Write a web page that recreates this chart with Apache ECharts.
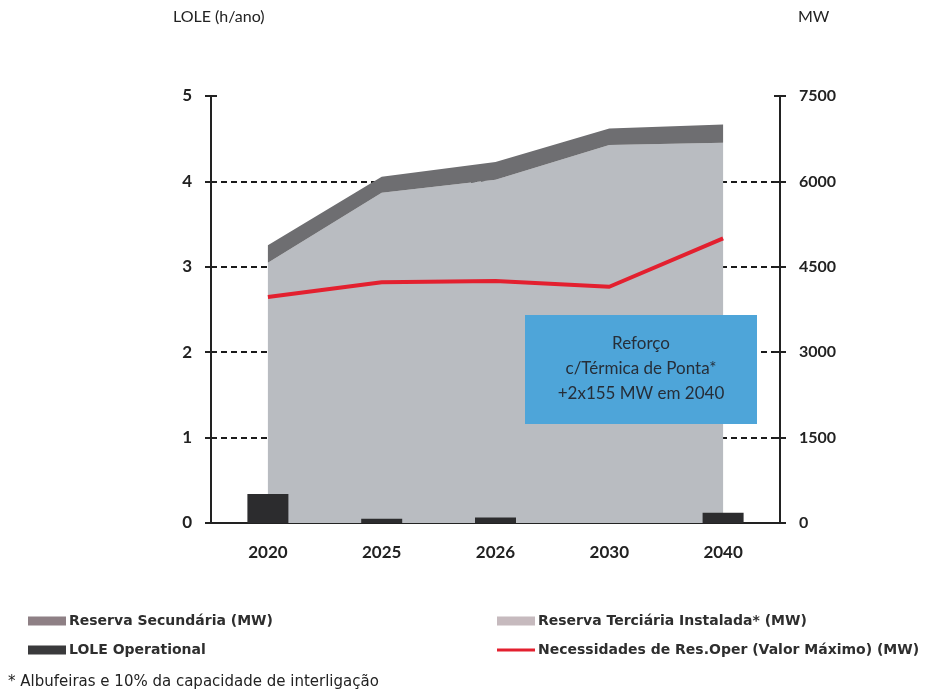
<!DOCTYPE html>
<html>
<head>
<meta charset="utf-8">
<script src="https://cdn.jsdelivr.net/npm/echarts@6/dist/echarts.min.js"></script>
<style>
  html, body { margin: 0; padding: 0; background: #ffffff; }
  #chart { width: 933px; height: 695px; }
</style>
</head>
<body>
<div id="chart"></div>
<script>
// Anos avaliados
const categories = ['2020', '2025', '2026', '2030', '2040'];

// Reserva terciária instalada (MW) - base da área empilhada
const reservaTerciaria = [4570, 5800, 6030, 6640, 6680];
// Reserva secundária (MW) - empilhada sobre a terciária
const reservaSecundaria = [310, 280, 310, 290, 320];
// Necessidades de reserva operacional, valor máximo (MW)
const necessidadesResOper = [3970, 4230, 4250, 4150, 5000];
// LOLE operacional (h/ano)
const loleOperacional = [0.34, 0.05, 0.065, 0, 0.12];

// Eixos
const loleTicks = { min: 0, max: 5, interval: 1 };
const mwTicks = { min: 0, max: 7500, interval: 1500 };

const NAME_SEC = 'Reserva Secundária (MW)';
const NAME_TER = 'Reserva Terciária Instalada* (MW)';
const NAME_LOLE = 'LOLE Operational';
const NAME_NEC = 'Necessidades de Res.Oper (Valor Máximo) (MW)';

const axisFont = 'Lato, "Open Sans", sans-serif';
const legendFont = '"DejaVu Sans", Verdana, sans-serif';

const chart = echarts.init(document.getElementById('chart'), null, { renderer: 'canvas' });

function legendBlock(name, left, top, color, iconHeight) {
  return {
    show: true,
    left: left,
    top: top,
    padding: 0,
    icon: 'rect',
    itemWidth: 38,
    itemHeight: iconHeight,
    itemGap: 0,
    selectedMode: false,
    textStyle: { fontFamily: legendFont, fontSize: 14, fontWeight: 'bold', color: '#2e2e2e', lineHeight: 16, padding: [0, 0, 0, -2] },
    data: [{ name: name, itemStyle: { color: color, borderWidth: 0 }, lineStyle: { opacity: 0 } }]
  };
}

const sharedYAxis = (ticks) => ({
  type: 'value',
  min: ticks.min,
  max: ticks.max,
  interval: ticks.interval
});

const option = {
  animation: false,
  backgroundColor: '#ffffff',
  grid: { left: 211, right: 153, top: 96, bottom: 172, containLabel: false },
  legend: [
    legendBlock(NAME_SEC, 28, 613, '#8e8085', 9),
    legendBlock(NAME_LOLE, 28, 642, '#3a3a3c', 9),
    legendBlock(NAME_TER, 497, 613, '#c6babe', 9),
    legendBlock(NAME_NEC, 497, 642, '#e3202f', 3)
  ],
  xAxis: [
    {
      type: 'category',
      data: categories,
      boundaryGap: true,
      position: 'bottom',
      axisLine: { show: true, lineStyle: { color: '#222', width: 2 } },
      axisTick: { show: false },
      axisLabel: { margin: 21, fontFamily: axisFont, fontWeight: 'bold', fontSize: 17, color: '#222' },
      splitLine: { show: false }
    },
    {
      // linha superior do quadro
      type: 'category',
      data: categories,
      position: 'top',
      axisLine: { show: true, lineStyle: { color: '#222', width: 2 } },
      axisTick: { show: false },
      axisLabel: { show: false },
      splitLine: { show: false }
    }
  ],
  yAxis: [
    Object.assign(sharedYAxis(loleTicks), {
      position: 'left',
      axisLine: { show: true, lineStyle: { color: '#222', width: 2 } },
      axisTick: { show: true, length: 6, lineStyle: { color: '#222', width: 2 } },
      axisLabel: { margin: 19, fontFamily: axisFont, fontWeight: 'bold', fontSize: 17, color: '#222' },
      splitLine: {
        show: true, showMinLine: false, showMaxLine: false,
        lineStyle: { color: '#1a1a1a', width: 2, type: [6, 4] }
      }
    }),
    Object.assign(sharedYAxis(mwTicks), {
      position: 'right',
      axisLine: { show: true, lineStyle: { color: '#222', width: 2 } },
      axisTick: { show: true, length: 6, lineStyle: { color: '#222', width: 2 } },
      axisLabel: {
        margin: 19, fontFamily: axisFont, fontWeight: 'bold', fontSize: 16, color: '#222',
        formatter: (v) => String(v)
      },
      splitLine: { show: false }
    }),
    Object.assign(sharedYAxis(loleTicks), {
      position: 'left',
      axisLine: { show: false },
      axisTick: { show: true, inside: true, length: 6, lineStyle: { color: '#222', width: 2 } },
      axisLabel: { show: false },
      splitLine: { show: false }
    }),
    Object.assign(sharedYAxis(mwTicks), {
      position: 'right',
      axisLine: { show: false },
      axisTick: { show: true, inside: true, length: 6, lineStyle: { color: '#222', width: 2 } },
      axisLabel: { show: false },
      splitLine: { show: false }
    })
  ],
  series: [
    {
      name: NAME_TER,
      type: 'line',
      yAxisIndex: 1,
      stack: 'reserva',
      data: reservaTerciaria,
      symbol: 'none',
      lineStyle: { width: 0 },
      areaStyle: { color: '#b9bcc1', opacity: 1 },
      itemStyle: { color: '#b9bcc1' },
      z: 2
    },
    {
      name: NAME_SEC,
      type: 'line',
      yAxisIndex: 1,
      stack: 'reserva',
      data: reservaSecundaria,
      symbol: 'none',
      lineStyle: { width: 0 },
      areaStyle: { color: '#6e6e71', opacity: 1 },
      itemStyle: { color: '#6e6e71' },
      z: 2
    },
    {
      name: NAME_LOLE,
      type: 'bar',
      yAxisIndex: 0,
      data: loleOperacional,
      barWidth: 41,
      itemStyle: { color: '#2c2c2e' },
      z: 5
    },
    {
      name: NAME_NEC,
      type: 'line',
      yAxisIndex: 1,
      data: necessidadesResOper,
      symbol: 'none',
      lineStyle: { color: '#e3202f', width: 4 },
      itemStyle: { color: '#e3202f' },
      z: 6
    }
  ],
  graphic: [
    {
      type: 'text', left: 173, top: 9,
      style: { text: 'LOLE (h/ano)', font: '16px ' + axisFont, fill: '#222' }
    },
    {
      type: 'text', left: 798, top: 9,
      style: { text: 'MW', font: '16px ' + axisFont, fill: '#222' }
    },
    {
      type: 'rect', z: 100,
      shape: { x: 525, y: 315, width: 232, height: 109 },
      style: { fill: '#4ea5d9' }
    },
    {
      type: 'text', z: 101,
      x: 641, y: 369,
      style: {
        text: 'Reforço\nc/Térmica de Ponta*\n+2x155 MW em 2040',
        font: '17px ' + axisFont,
        lineHeight: 25,
        fill: '#262e38',
        align: 'center',
        verticalAlign: 'middle'
      }
    },
    {
      type: 'text', left: 8, top: 675,
      style: { text: '* Albufeiras e 10% da capacidade de interligação', font: '15px ' + legendFont, fill: '#222' }
    }
  ]
};

chart.setOption(option);
</script>
</body>
</html>
